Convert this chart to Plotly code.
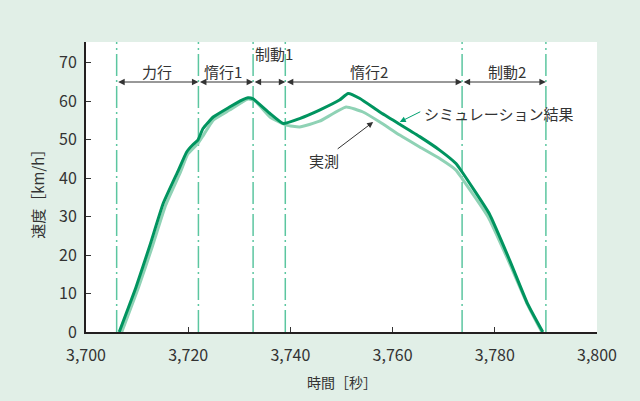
import plotly.graph_objects as go

# Simulated speed profile [s], [km/h]
time_sim = [3706.5, 3709.8, 3712.5, 3715.1, 3718.1, 3719.7, 3721.0, 3721.9,
            3722.9, 3724.9, 3728.1, 3730.5, 3731.7, 3732.7, 3736.0, 3738.6,
            3741.8, 3745.7, 3749.6, 3751.3, 3753.6, 3757.5, 3761.4, 3765.3,
            3769.2, 3772.4, 3773.6, 3778.9, 3782.9, 3786.4, 3789.4]
speed_sim = [0, 11.7, 22.5, 33.4, 42.1, 46.8, 48.8, 49.9,
             52.9, 55.9, 58.5, 60.3, 60.9, 60.6, 56.8, 54.2,
             55.5, 57.7, 60.3, 62.0, 60.7, 57.2, 54.0, 50.8,
             47.3, 43.8, 41.6, 30.8, 18.7, 7.4, 0]

# Measured speed profile [s], [km/h]
time_meas = [3707.0, 3710.3, 3713.0, 3715.6, 3718.5, 3719.9, 3721.9, 3723.0,
             3724.9, 3728.1, 3731.7, 3733.0, 3736.0, 3739.2, 3741.8, 3745.7,
             3750.9, 3754.2, 3757.5, 3761.4, 3765.3, 3769.2, 3772.4, 3773.6,
             3778.7, 3782.6, 3786.3, 3789.2]
speed_meas = [0, 11.7, 22.3, 33.0, 41.6, 46.2, 49.0, 51.2,
              55.1, 57.7, 60.6, 60.2, 55.9, 53.8, 53.3, 54.8,
              58.5, 57.2, 54.6, 51.2, 48.1, 45.1, 42.1, 39.9,
              29.9, 18.7, 7.4, 0]

# Phase boundaries [s] and phase names
phase_bounds = [3706.0, 3722.0, 3732.7, 3739.0, 3773.6, 3790.0]
phase_names = ["力行", "惰行1", "制動1", "惰行2", "制動2"]
phase_label_t = [3713.8, 3726.9, 3736.7, 3755.3, 3782.4]
phase_label_v = [67.7, 67.7, 72.4, 67.7, 67.7]
arrow_v = 65

x_ticks = [3700, 3720, 3740, 3760, 3780, 3800]
x_tick_text = ["3,700", "3,720", "3,740", "3,760", "3,780", "3,800"]
y_ticks = [0, 10, 20, 30, 40, 50, 60, 70]

FONT = "Noto Sans CJK JP"
TEXT = "#333333"
DARK = "#00945f"
LIGHT = "#8fd2b5"
GUIDE = "#5cc6a0"

fig = go.Figure()

fig.add_trace(go.Scatter(x=time_meas, y=speed_meas, mode="lines",
                         line=dict(color=LIGHT, width=3, shape="spline", smoothing=0.4),
                         name="実測", showlegend=False, hoverinfo="skip"))
fig.add_trace(go.Scatter(x=time_sim, y=speed_sim, mode="lines",
                         line=dict(color=DARK, width=3, shape="spline", smoothing=0.4),
                         name="シミュレーション結果", showlegend=False, hoverinfo="skip"))

shapes = []
for t in phase_bounds:
    shapes.append(dict(type="line", xref="x", yref="paper", x0=t, x1=t, y0=0, y1=1,
                       line=dict(color=GUIDE, width=1.5, dash="22px,4px,2px,4px"),
                       layer="below"))

annotations = []
for a, b in zip(phase_bounds[:-1], phase_bounds[1:]):
    annotations.append(dict(x=b, y=arrow_v, ax=a, ay=arrow_v, xref="x", yref="y",
                            axref="x", ayref="y", text="", showarrow=True,
                            arrowhead=2, arrowside="end+start", arrowsize=1.3,
                            arrowwidth=1, arrowcolor=TEXT, standoff=0, startstandoff=0))
for name, t, v in zip(phase_names, phase_label_t, phase_label_v):
    annotations.append(dict(x=t, y=v, xref="x", yref="y", text=name, showarrow=False,
                            font=dict(family=FONT, size=15, color=TEXT)))

# Callouts for the two curves
annotations.append(dict(x=3761.4, y=54.6, xref="x", yref="y", text="", showarrow=True,
                        ax=22, ay=-11, arrowhead=2, arrowsize=1.2, arrowwidth=1,
                        arrowcolor="#00a070"))
annotations.append(dict(x=3765.8, y=56.8, xref="x", yref="y", text="シミュレーション結果",
                        showarrow=False, xanchor="left",
                        font=dict(family=FONT, size=15, color=TEXT)))
annotations.append(dict(x=3756.2, y=54.6, xref="x", yref="y", text="", showarrow=True,
                        ax=-37, ay=28, arrowhead=2, arrowsize=1.2, arrowwidth=1,
                        arrowcolor=TEXT))
annotations.append(dict(x=3746.6, y=44.6, xref="x", yref="y", text="実測",
                        showarrow=False, xanchor="center",
                        font=dict(family=FONT, size=15, color=TEXT)))

# Axis titles
annotations.append(dict(x=-0.094, y=0.49, xref="paper", yref="paper", text="速度［km/h］",
                        textangle=-90, showarrow=False, xanchor="center", yanchor="middle",
                        font=dict(family=FONT, size=15, color=TEXT)))
annotations.append(dict(x=0.5, y=-0.173, xref="paper", yref="paper", text="時間［秒］",
                        showarrow=False, xanchor="center", yanchor="middle",
                        font=dict(family=FONT, size=14, color=TEXT)))

fig.update_layout(
    width=640, height=401,
    margin=dict(l=86, r=43, t=42, b=69),
    paper_bgcolor="#e1efe7",
    plot_bgcolor="#ffffff",
    font=dict(family=FONT, color=TEXT),
    shapes=shapes,
    annotations=annotations,
    xaxis=dict(range=[3700, 3800], tickvals=x_ticks, ticktext=x_tick_text,
               ticks="inside", ticklen=5, tickcolor=TEXT, tickwidth=1,
               showline=True, linecolor="#231f20", linewidth=2,
               showgrid=False, zeroline=False, ticklabelstandoff=8,
               tickfont=dict(family=FONT, size=16, color=TEXT)),
    yaxis=dict(range=[0, 75.4], tickvals=y_ticks,
               ticks="inside", ticklen=5, tickcolor=TEXT, tickwidth=1,
               showline=True, linecolor="#231f20", linewidth=2,
               showgrid=False, zeroline=False, ticklabelstandoff=4,
               tickfont=dict(family=FONT, size=16, color=TEXT)),
)

fig.write_html("out.html")
